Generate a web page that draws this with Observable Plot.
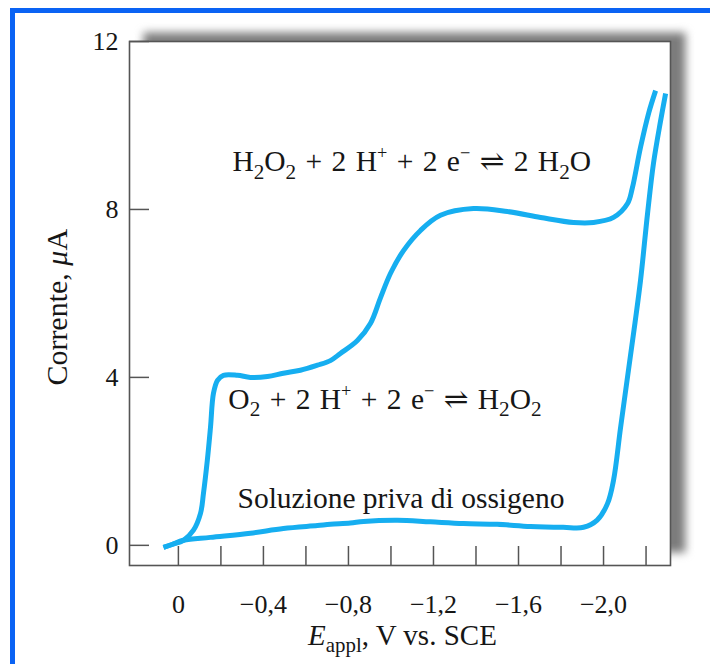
<!DOCTYPE html>
<html>
<head>
<meta charset="utf-8">
<script src="https://cdn.jsdelivr.net/npm/d3@7"></script>
<script src="https://cdn.jsdelivr.net/npm/@observablehq/plot@0.6"></script>
<style>
  html, body { margin: 0; padding: 0; background: #fff; }
  #wrap { position: relative; width: 710px; height: 664px; overflow: hidden; }
  #chart { position: absolute; left: 0; top: 0; }
  .edge { position: absolute; background: #0a63f4; }
</style>
</head>
<body>
<div id="wrap">
  <div id="chart"></div>
  <div class="edge" style="left:10px;top:8px;width:700px;height:5px"></div>
  <div class="edge" style="left:10px;top:8px;width:5px;height:656px"></div>
</div>
<script>
// Air-saturated solution: potential (V vs. SCE) and current (µA)
const o2Potential = [0.07, 0.03, -0.024, -0.071, -0.104, -0.118, -0.136, -0.151, -0.165, -0.184, -0.212, -0.278, -0.339, -0.419, -0.494, -0.574, -0.654, -0.715, -0.762, -0.842, -0.904, -0.951, -0.998, -1.059, -1.139, -1.233, -1.388, -1.548, -1.704, -1.859, -1.953, -2.047, -2.113, -2.135, -2.174, -2.212, -2.245];
const o2Current = [-0.05, 0.02, 0.12, 0.36, 0.76, 1.24, 2.02, 2.81, 3.62, 3.93, 4.05, 4.05, 4.0, 4.02, 4.1, 4.17, 4.29, 4.4, 4.57, 4.88, 5.29, 5.9, 6.48, 7.02, 7.5, 7.86, 8.02, 7.95, 7.81, 7.69, 7.69, 7.81, 8.14, 8.5, 9.48, 10.29, 10.83];

// Oxygen-free solution
const blankPotential = [0.07, 0.03, -0.024, -0.15, -0.339, -0.494, -0.654, -0.715, -0.809, -0.871, -1.03, -1.186, -1.341, -1.5, -1.656, -1.81, -1.906, -1.97, -2.019, -2.047, -2.08, -2.118, -2.148, -2.174, -2.207, -2.235, -2.268, -2.292];
const blankCurrent = [-0.05, 0.02, 0.12, 0.19, 0.29, 0.4, 0.47, 0.5, 0.53, 0.57, 0.6, 0.56, 0.52, 0.5, 0.45, 0.43, 0.43, 0.6, 1.0, 1.55, 2.8, 4.2, 5.3, 6.31, 7.9, 9.1, 10.1, 10.76];

const xTicks = [0, -0.2, -0.4, -0.6, -0.8, -1.0, -1.2, -1.4, -1.6, -1.8, -2.0, -2.2];
const xTickLabels = [0, -0.4, -0.8, -1.2, -1.6, -2.0];
const yTicks = [0, 4, 8, 12];

// Text with light markup: _{sub}, ^{sup}, *italic*
const reactionPeroxide = "H_{2}O_{2} + 2 H^{+} + 2 e^{−} ⇌ 2 H_{2}O";
const reactionOxygen = "O_{2} + 2 H^{+} + 2 e^{−} ⇌ H_{2}O_{2}";
const blankLabel = "Soluzione priva di ossigeno";
const xTitle = "*E*_{appl}, V vs. SCE";
const yTitle = "Corrente, *μ*A";

const curveColor = "#16aef0";
const serif = '"Liberation Serif", "Times New Roman", "DejaVu Serif", serif';

const fmtPotential = d => d === 0 ? "0" : "−" + Math.abs(d).toFixed(1).replace(".", ",");

const plot = Plot.plot({
  width: 710,
  height: 664,
  marginLeft: 129,
  marginRight: 40,
  marginTop: 41,
  marginBottom: 99,
  x: {domain: [0.23, -2.315]},
  y: {domain: [-0.48, 12]},
  style: {fontFamily: serif, fontSize: "26px", color: "#161616", background: "transparent"},
  marks: [
    // drop shadow behind the plotting area
    Plot.frame({fill: "#7c7c7c", stroke: null, insetLeft: 14, insetRight: -15, insetTop: -9, insetBottom: 13}),
    Plot.frame({fill: "white", stroke: "#555", strokeWidth: 1.6}),
    Plot.line(blankCurrent, {x: blankPotential, y: blankCurrent, curve: "catmull-rom", stroke: curveColor, strokeWidth: 5, strokeLinecap: "butt"}),
    Plot.line(o2Current, {x: o2Potential, y: o2Current, curve: "catmull-rom", stroke: curveColor, strokeWidth: 5, strokeLinecap: "butt"}),
    // inward ticks
    Plot.ruleX(xTicks, {x: d => d, stroke: "#555", strokeWidth: 1.5, insetTop: 505}),
    Plot.ruleY(yTicks, {y: d => d, stroke: "#555", strokeWidth: 1.5, insetRight: 521}),
    Plot.axisX(xTickLabels, {tickSize: 0, tickPadding: 29, tickFormat: fmtPotential, label: null, fontSize: 26}),
    Plot.axisY(yTicks, {tickSize: 0, tickPadding: 11, label: null, fontSize: 26}),
    Plot.text([reactionPeroxide], {text: d => d, x: -0.254, y: 9.14, textAnchor: "start", lineAnchor: "middle", fontSize: 29.5, wordSpacing: 2}),
    Plot.text([reactionOxygen], {text: d => d, x: -0.235, y: 3.48, textAnchor: "start", lineAnchor: "middle", fontSize: 29.5}),
    Plot.text([blankLabel], {text: d => d, x: -0.278, y: 1.12, textAnchor: "start", lineAnchor: "middle", fontSize: 29.5}),
    Plot.text([xTitle], {text: d => d, frameAnchor: "bottom", x: -1.054, dy: 70, textAnchor: "middle", lineAnchor: "middle", fontSize: 29}),
    Plot.text([yTitle], {text: d => d, frameAnchor: "left", y: 5.67, dx: -72, rotate: -90, textAnchor: "middle", lineAnchor: "middle", fontSize: 30})
  ]
});

document.getElementById("chart").appendChild(plot);

// soften the shadow frame
const frames = plot.querySelectorAll('[aria-label="frame"]');
if (frames.length) frames[0].style.filter = "blur(4px)";

// equations get slightly looser spacing between terms
d3.select(plot).selectAll("text").filter(function () { return this.textContent.includes("⇌"); })
  .style("word-spacing", "2px");

// turn the markup into tspans with sub/superscripts and italics
const SVGNS = "http://www.w3.org/2000/svg";
d3.select(plot).selectAll("text").each(function () {
  const el = this;
  const s = el.textContent;
  if (!/(_\{|\^\{|\*)/.test(s)) return;
  const fs = parseFloat(getComputedStyle(el).fontSize) || 26;
  el.textContent = "";
  const parts = s.split(/(_\{[^}]*\}|\^\{[^}]*\}|\*[^*]+\*)/).filter(p => p);
  let shift = 0;
  for (const p of parts) {
    const t = document.createElementNS(SVGNS, "tspan");
    let target = 0;
    if (p.startsWith("_{")) {
      t.textContent = p.slice(2, -1);
      t.setAttribute("font-size", (0.72 * fs).toFixed(1));
      target = 0.26 * fs;
    } else if (p.startsWith("^{")) {
      t.textContent = p.slice(2, -1);
      t.setAttribute("font-size", (0.62 * fs).toFixed(1));
      target = -0.4 * fs;
    } else if (p.startsWith("*")) {
      t.textContent = p.slice(1, -1);
      t.setAttribute("font-style", "italic");
    } else {
      t.textContent = p;
    }
    if (target !== shift) {
      t.setAttribute("dy", (target - shift).toFixed(1));
      shift = target;
    }
    el.appendChild(t);
  }
});
</script>
</body>
</html>
